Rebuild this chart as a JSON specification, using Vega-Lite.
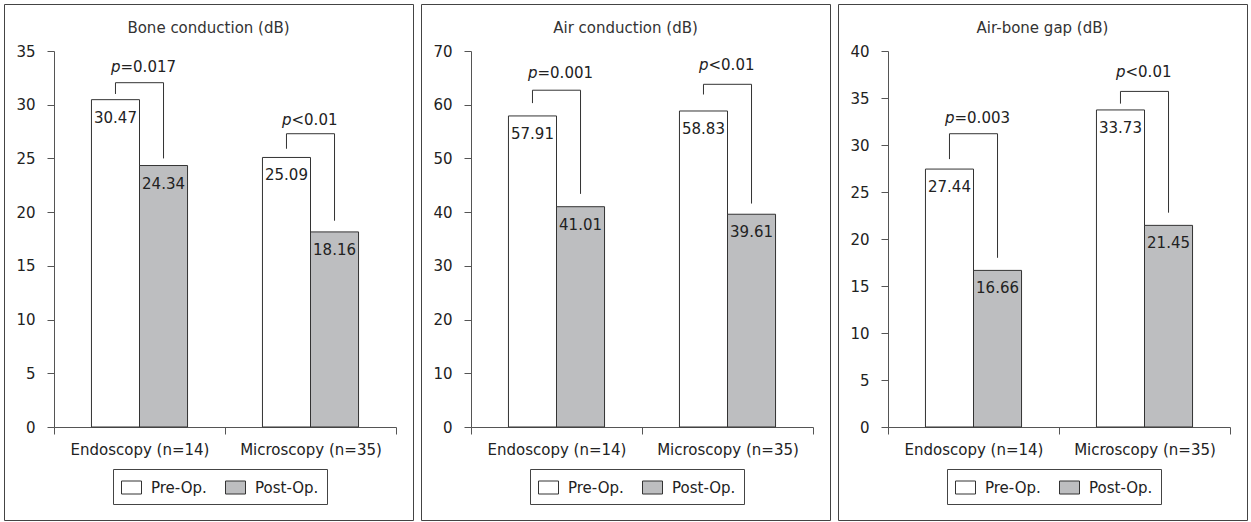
{
  "$schema": "https://vega.github.io/schema/vega-lite/v6.json",
  "padding": {"left": 3, "top": 3, "right": 0, "bottom": 0},
  "background": "white",
  "config": {
    "font": "DejaVu Sans",
    "view": {"stroke": "#444", "strokeWidth": 1},
    "concat": {"spacing": 6},
    "axis": {"grid": false, "title": null, "domainColor": "#555", "tickColor": "#555", "tickSize": 7, "labelFontSize": 15, "labelColor": "#222", "labelFont": "DejaVu Sans"},
    "title": {"fontSize": 15, "fontWeight": "normal", "color": "#333", "anchor": "middle", "font": "DejaVu Sans"},
    "legend": {"orient": "none", "legendX": 109, "legendY": 465, "direction": "horizontal", "title": null, "strokeColor": "#444", "padding": 8, "symbolType": "M-1,-0.65H1V0.65H-1Z", "symbolSize": 400, "symbolStrokeColor": "#333", "symbolStrokeWidth": 1, "labelFontSize": 15, "labelColor": "#222", "labelOffset": 9, "columnPadding": 16, "labelFont": "DejaVu Sans"}
  },
  "datasets": {
    "bars": [
      {"panel": "bone", "group": "Endoscopy (n=14)", "status": "Pre-Op.", "value": 30.47},
      {"panel": "bone", "group": "Endoscopy (n=14)", "status": "Post-Op.", "value": 24.34},
      {"panel": "bone", "group": "Microscopy (n=35)", "status": "Pre-Op.", "value": 25.09},
      {"panel": "bone", "group": "Microscopy (n=35)", "status": "Post-Op.", "value": 18.16},
      {"panel": "air", "group": "Endoscopy (n=14)", "status": "Pre-Op.", "value": 57.91},
      {"panel": "air", "group": "Endoscopy (n=14)", "status": "Post-Op.", "value": 41.01},
      {"panel": "air", "group": "Microscopy (n=35)", "status": "Pre-Op.", "value": 58.83},
      {"panel": "air", "group": "Microscopy (n=35)", "status": "Post-Op.", "value": 39.61},
      {"panel": "gap", "group": "Endoscopy (n=14)", "status": "Pre-Op.", "value": 27.44},
      {"panel": "gap", "group": "Endoscopy (n=14)", "status": "Post-Op.", "value": 16.66},
      {"panel": "gap", "group": "Microscopy (n=35)", "status": "Pre-Op.", "value": 33.73},
      {"panel": "gap", "group": "Microscopy (n=35)", "status": "Post-Op.", "value": 21.45}
    ],
    "brackets": [
      {"panel": "bone", "group": "Endoscopy (n=14)", "status": "Pre-Op.", "value": 31.0, "ord": 1},
      {"panel": "bone", "group": "Endoscopy (n=14)", "status": "Pre-Op.", "value": 32.05, "ord": 2},
      {"panel": "bone", "group": "Endoscopy (n=14)", "status": "Post-Op.", "value": 32.05, "ord": 3},
      {"panel": "bone", "group": "Endoscopy (n=14)", "status": "Post-Op.", "value": 25.0, "ord": 4},
      {"panel": "bone", "group": "Microscopy (n=35)", "status": "Pre-Op.", "value": 25.9, "ord": 1},
      {"panel": "bone", "group": "Microscopy (n=35)", "status": "Pre-Op.", "value": 27.3, "ord": 2},
      {"panel": "bone", "group": "Microscopy (n=35)", "status": "Post-Op.", "value": 27.3, "ord": 3},
      {"panel": "bone", "group": "Microscopy (n=35)", "status": "Post-Op.", "value": 19.2, "ord": 4},
      {"panel": "air", "group": "Endoscopy (n=14)", "status": "Pre-Op.", "value": 60.3, "ord": 1},
      {"panel": "air", "group": "Endoscopy (n=14)", "status": "Pre-Op.", "value": 62.7, "ord": 2},
      {"panel": "air", "group": "Endoscopy (n=14)", "status": "Post-Op.", "value": 62.7, "ord": 3},
      {"panel": "air", "group": "Endoscopy (n=14)", "status": "Post-Op.", "value": 43.4, "ord": 4},
      {"panel": "air", "group": "Microscopy (n=35)", "status": "Pre-Op.", "value": 61.9, "ord": 1},
      {"panel": "air", "group": "Microscopy (n=35)", "status": "Pre-Op.", "value": 63.8, "ord": 2},
      {"panel": "air", "group": "Microscopy (n=35)", "status": "Post-Op.", "value": 63.8, "ord": 3},
      {"panel": "air", "group": "Microscopy (n=35)", "status": "Post-Op.", "value": 41.6, "ord": 4},
      {"panel": "gap", "group": "Endoscopy (n=14)", "status": "Pre-Op.", "value": 28.5, "ord": 1},
      {"panel": "gap", "group": "Endoscopy (n=14)", "status": "Pre-Op.", "value": 31.2, "ord": 2},
      {"panel": "gap", "group": "Endoscopy (n=14)", "status": "Post-Op.", "value": 31.2, "ord": 3},
      {"panel": "gap", "group": "Endoscopy (n=14)", "status": "Post-Op.", "value": 18.0, "ord": 4},
      {"panel": "gap", "group": "Microscopy (n=35)", "status": "Pre-Op.", "value": 34.4, "ord": 1},
      {"panel": "gap", "group": "Microscopy (n=35)", "status": "Pre-Op.", "value": 35.7, "ord": 2},
      {"panel": "gap", "group": "Microscopy (n=35)", "status": "Post-Op.", "value": 35.7, "ord": 3},
      {"panel": "gap", "group": "Microscopy (n=35)", "status": "Post-Op.", "value": 22.8, "ord": 4}
    ],
    "pvals": [
      {"panel": "bone", "group": "Endoscopy (n=14)", "value": 33.5, "p": "p", "rest": "=0.017"},
      {"panel": "bone", "group": "Microscopy (n=35)", "value": 28.6, "p": "p", "rest": " <0.01"},
      {"panel": "air", "group": "Endoscopy (n=14)", "value": 65.9, "p": "p", "rest": "=0.001"},
      {"panel": "air", "group": "Microscopy (n=35)", "value": 67.4, "p": "p", "rest": " <0.01"},
      {"panel": "gap", "group": "Endoscopy (n=14)", "value": 32.9, "p": "p", "rest": "=0.003"},
      {"panel": "gap", "group": "Microscopy (n=35)", "value": 37.8, "p": "p", "rest": " <0.01"}
    ]
  },
  "hconcat": [
    {
      "width": 409, "height": 516,
      "title": {"text": "Bone conduction (dB)", "offset": -32},
      "layer": [
        {
          "data": {"name": "bars"},
          "transform": [{"filter": "datum.panel == 'bone'"}],
          "mark": {"type": "bar", "stroke": "#333", "strokeWidth": 1},
          "encoding": {
            "x": {"field": "group", "type": "nominal", "scale": {"range": [50, 392], "paddingInner": 0, "paddingOuter": 0}, "axis": {"orient": "bottom", "offset": -93, "labelAngle": 0, "tickBand": "extent", "labelPadding": 8}},
            "xOffset": {"field": "status", "type": "nominal", "sort": ["Pre-Op.", "Post-Op."], "scale": {"domain": ["Pre-Op.", "Post-Op."], "paddingInner": 0, "paddingOuter": 0.78}},
            "y": {"field": "value", "type": "quantitative", "scale": {"domain": [0, 35], "range": [423, 47]}, "axis": {"values": [0, 5, 10, 15, 20, 25, 30, 35], "offset": -50, "labelPadding": 12}},
            "fill": {"field": "status", "type": "nominal", "scale": {"domain": ["Pre-Op.", "Post-Op."], "range": ["#ffffff", "#bdbec0"]}}
          }
        },
        {
          "data": {"name": "bars"},
          "transform": [{"filter": "datum.panel == 'bone'"}],
          "mark": {"type": "text", "baseline": "top", "dy": 11, "fontSize": 15, "color": "#222"},
          "encoding": {
            "x": {"field": "group", "type": "nominal"},
            "xOffset": {"field": "status", "type": "nominal", "sort": ["Pre-Op.", "Post-Op."]},
            "y": {"field": "value", "type": "quantitative"},
            "text": {"field": "value", "type": "quantitative", "format": ".2f"}
          }
        },
        {
          "data": {"name": "brackets"},
          "transform": [{"filter": "datum.panel == 'bone'"}],
          "mark": {"type": "line", "color": "#333", "strokeWidth": 1},
          "encoding": {
            "x": {"field": "group", "type": "nominal"},
            "xOffset": {"field": "status", "type": "nominal", "sort": ["Pre-Op.", "Post-Op."]},
            "y": {"field": "value", "type": "quantitative"},
            "detail": {"field": "group"},
            "order": {"field": "ord"}
          }
        },
        {
          "data": {"name": "pvals"},
          "transform": [{"filter": "datum.panel == 'bone'"}],
          "mark": {"type": "text", "align": "right", "baseline": "middle", "dx": -19, "fontSize": 15, "fontStyle": "italic", "color": "#222"},
          "encoding": {
            "x": {"field": "group", "type": "nominal"},
            "y": {"field": "value", "type": "quantitative"},
            "text": {"field": "p"}
          }
        },
        {
          "data": {"name": "pvals"},
          "transform": [{"filter": "datum.panel == 'bone'"}],
          "mark": {"type": "text", "align": "left", "baseline": "middle", "dx": -19, "fontSize": 15, "color": "#222"},
          "encoding": {
            "x": {"field": "group", "type": "nominal"},
            "y": {"field": "value", "type": "quantitative"},
            "text": {"field": "rest"}
          }
        }
      ]
    },
    {
      "width": 409, "height": 516,
      "title": {"text": "Air conduction (dB)", "offset": -32},
      "layer": [
        {
          "data": {"name": "bars"},
          "transform": [{"filter": "datum.panel == 'air'"}],
          "mark": {"type": "bar", "stroke": "#333", "strokeWidth": 1},
          "encoding": {
            "x": {"field": "group", "type": "nominal", "scale": {"range": [50, 392], "paddingInner": 0, "paddingOuter": 0}, "axis": {"orient": "bottom", "offset": -93, "labelAngle": 0, "tickBand": "extent", "labelPadding": 8}},
            "xOffset": {"field": "status", "type": "nominal", "sort": ["Pre-Op.", "Post-Op."], "scale": {"domain": ["Pre-Op.", "Post-Op."], "paddingInner": 0, "paddingOuter": 0.78}},
            "y": {"field": "value", "type": "quantitative", "scale": {"domain": [0, 70], "range": [423, 47]}, "axis": {"values": [0, 10, 20, 30, 40, 50, 60, 70], "offset": -50, "labelPadding": 12}},
            "fill": {"field": "status", "type": "nominal", "scale": {"domain": ["Pre-Op.", "Post-Op."], "range": ["#ffffff", "#bdbec0"]}}
          }
        },
        {
          "data": {"name": "bars"},
          "transform": [{"filter": "datum.panel == 'air'"}],
          "mark": {"type": "text", "baseline": "top", "dy": 11, "fontSize": 15, "color": "#222"},
          "encoding": {
            "x": {"field": "group", "type": "nominal"},
            "xOffset": {"field": "status", "type": "nominal", "sort": ["Pre-Op.", "Post-Op."]},
            "y": {"field": "value", "type": "quantitative"},
            "text": {"field": "value", "type": "quantitative", "format": ".2f"}
          }
        },
        {
          "data": {"name": "brackets"},
          "transform": [{"filter": "datum.panel == 'air'"}],
          "mark": {"type": "line", "color": "#333", "strokeWidth": 1},
          "encoding": {
            "x": {"field": "group", "type": "nominal"},
            "xOffset": {"field": "status", "type": "nominal", "sort": ["Pre-Op.", "Post-Op."]},
            "y": {"field": "value", "type": "quantitative"},
            "detail": {"field": "group"},
            "order": {"field": "ord"}
          }
        },
        {
          "data": {"name": "pvals"},
          "transform": [{"filter": "datum.panel == 'air'"}],
          "mark": {"type": "text", "align": "right", "baseline": "middle", "dx": -19, "fontSize": 15, "fontStyle": "italic", "color": "#222"},
          "encoding": {
            "x": {"field": "group", "type": "nominal"},
            "y": {"field": "value", "type": "quantitative"},
            "text": {"field": "p"}
          }
        },
        {
          "data": {"name": "pvals"},
          "transform": [{"filter": "datum.panel == 'air'"}],
          "mark": {"type": "text", "align": "left", "baseline": "middle", "dx": -19, "fontSize": 15, "color": "#222"},
          "encoding": {
            "x": {"field": "group", "type": "nominal"},
            "y": {"field": "value", "type": "quantitative"},
            "text": {"field": "rest"}
          }
        }
      ]
    },
    {
      "width": 409, "height": 516,
      "title": {"text": "Air-bone gap (dB)", "offset": -32},
      "layer": [
        {
          "data": {"name": "bars"},
          "transform": [{"filter": "datum.panel == 'gap'"}],
          "mark": {"type": "bar", "stroke": "#333", "strokeWidth": 1},
          "encoding": {
            "x": {"field": "group", "type": "nominal", "scale": {"range": [50, 392], "paddingInner": 0, "paddingOuter": 0}, "axis": {"orient": "bottom", "offset": -93, "labelAngle": 0, "tickBand": "extent", "labelPadding": 8}},
            "xOffset": {"field": "status", "type": "nominal", "sort": ["Pre-Op.", "Post-Op."], "scale": {"domain": ["Pre-Op.", "Post-Op."], "paddingInner": 0, "paddingOuter": 0.78}},
            "y": {"field": "value", "type": "quantitative", "scale": {"domain": [0, 40], "range": [423, 47]}, "axis": {"values": [0, 5, 10, 15, 20, 25, 30, 35, 40], "offset": -50, "labelPadding": 12}},
            "fill": {"field": "status", "type": "nominal", "scale": {"domain": ["Pre-Op.", "Post-Op."], "range": ["#ffffff", "#bdbec0"]}}
          }
        },
        {
          "data": {"name": "bars"},
          "transform": [{"filter": "datum.panel == 'gap'"}],
          "mark": {"type": "text", "baseline": "top", "dy": 11, "fontSize": 15, "color": "#222"},
          "encoding": {
            "x": {"field": "group", "type": "nominal"},
            "xOffset": {"field": "status", "type": "nominal", "sort": ["Pre-Op.", "Post-Op."]},
            "y": {"field": "value", "type": "quantitative"},
            "text": {"field": "value", "type": "quantitative", "format": ".2f"}
          }
        },
        {
          "data": {"name": "brackets"},
          "transform": [{"filter": "datum.panel == 'gap'"}],
          "mark": {"type": "line", "color": "#333", "strokeWidth": 1},
          "encoding": {
            "x": {"field": "group", "type": "nominal"},
            "xOffset": {"field": "status", "type": "nominal", "sort": ["Pre-Op.", "Post-Op."]},
            "y": {"field": "value", "type": "quantitative"},
            "detail": {"field": "group"},
            "order": {"field": "ord"}
          }
        },
        {
          "data": {"name": "pvals"},
          "transform": [{"filter": "datum.panel == 'gap'"}],
          "mark": {"type": "text", "align": "right", "baseline": "middle", "dx": -19, "fontSize": 15, "fontStyle": "italic", "color": "#222"},
          "encoding": {
            "x": {"field": "group", "type": "nominal"},
            "y": {"field": "value", "type": "quantitative"},
            "text": {"field": "p"}
          }
        },
        {
          "data": {"name": "pvals"},
          "transform": [{"filter": "datum.panel == 'gap'"}],
          "mark": {"type": "text", "align": "left", "baseline": "middle", "dx": -19, "fontSize": 15, "color": "#222"},
          "encoding": {
            "x": {"field": "group", "type": "nominal"},
            "y": {"field": "value", "type": "quantitative"},
            "text": {"field": "rest"}
          }
        }
      ]
    }
  ],
  "resolve": {"scale": {"x": "independent", "y": "independent", "xOffset": "independent", "fill": "independent"}, "legend": {"fill": "independent"}}
}
